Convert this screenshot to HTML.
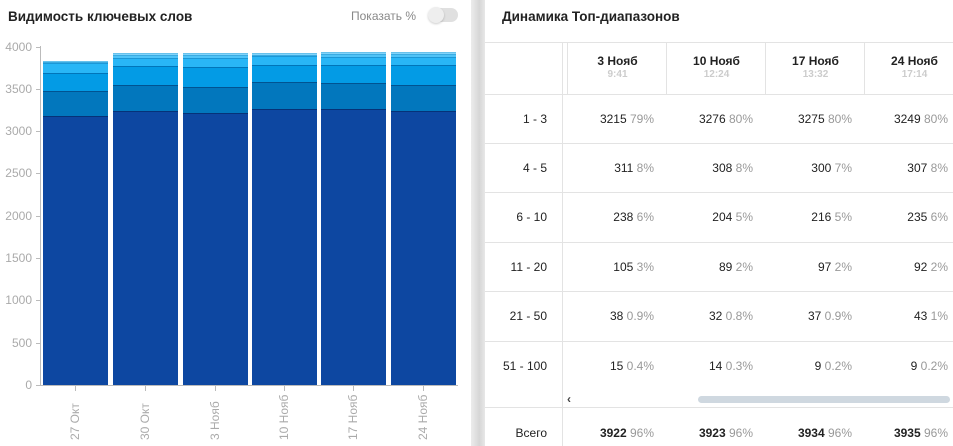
<!DOCTYPE html>
<html><head><meta charset="utf-8"><style>
*{margin:0;padding:0;box-sizing:border-box}
body{width:953px;height:446px;background:#fff;font-family:"Liberation Sans",Arial,sans-serif;position:relative;overflow:hidden}
.a{position:absolute}
.t{font-size:13.5px;font-weight:bold;color:#222}
.yl{font-size:12px;color:#aaa;text-align:right;width:30px;left:2px}
.xl{font-size:12px;color:#aaa;transform:rotate(-90deg);transform-origin:left top;white-space:nowrap}
.hl{background:#e3e3e3;height:1px}
.vl{background:#e3e3e3;width:1px}
.c{font-size:12px;color:#222;text-align:right;white-space:nowrap}
.c span{color:#999}
.h{font-size:12px;font-weight:bold;text-align:center;color:#222;line-height:14px}
.h small{display:block;font-size:10px;color:#ccc;font-weight:bold}
</style></head><body>
<div class="a t" style="left:8px;top:9px">Видимость ключевых слов</div>
<div class="a" style="left:351px;top:9px;font-size:12px;color:#888">Показать %</div>
<div class="a" style="left:429px;top:8px;width:29px;height:14px;border-radius:7px;background:#e0e0e0"></div>
<div class="a" style="left:428px;top:7px;width:16px;height:16px;border-radius:8px;background:#eee;box-shadow:0 1px 2px rgba(0,0,0,.2)"></div>
<div id="chart"></div>
<div class="a" style="left:471px;top:0;width:14px;height:446px;background:linear-gradient(90deg,#ececec,#d6d6d6 60%,#e8e8e8)"></div>
<div class="a t" style="left:502px;top:9px">Динамика Топ-диапазонов</div>
<div id="tbl"></div>
<script>
var ch=document.getElementById('chart'),h='';
var ys=[4000,3500,3000,2500,2000,1500,1000,500,0];
ys.forEach(function(v,i){var y=46.5+i*42.3;h+='<div class="a yl" style="top:'+(y-7)+'px">'+v+'</div><div class="a" style="left:36px;top:'+Math.round(y)+'px;width:4px;height:1px;background:#bbb"></div>';});
h+='<div class="a" style="left:40px;top:46px;width:1px;height:340px;background:#bbb"></div><div class="a" style="left:40px;top:385px;width:418px;height:1px;background:#bbb"></div>';
var bx=[43,113,183,252,321,391];
var bd=[[116,91,73,63,62,62],[111,85,66,58,55,54],[113,87,67,58,55,54],[109,82,65,56,55,54],[109,83,65,57,54,53],[111,85,65,57,54,53]];
var cols=['#0d47a1','#0277bd','#039be5','#29b6f6','#4fc3f7','#81d4fa'];
var bc=['rgba(0,30,80,.5)','rgba(0,40,90,.45)','rgba(0,60,120,.4)','rgba(0,80,140,.3)','rgba(0,100,160,.25)','rgba(0,120,180,.2)'];
var lb=['27 Окт','30 Окт','3 Нояб','10 Нояб','17 Нояб','24 Нояб'];
bx.forEach(function(x,i){var d=bd[i],prev=385;for(var k=0;k<6;k++){var top=d[k];if(k==5)top=d[5]-1;var hh=prev-top;if(hh>0)h+='<div class="a" style="left:'+x+'px;top:'+top+'px;width:65px;height:'+hh+'px;background:'+cols[k]+';border-top:1px solid '+bc[k]+'"></div>';prev=top;}
var cx=x+32;h+='<div class="a" style="left:'+cx+'px;top:386px;width:1px;height:5px;background:#bbb"></div><div class="a xl" style="left:'+(cx-7)+'px;top:'+(440)+'px">'+lb[i]+'</div>';});
ch.innerHTML=h;
var t='',rows=[['1 - 3',['3215','79%'],['3276','80%'],['3275','80%'],['3249','80%']],['4 - 5',['311','8%'],['308','8%'],['300','7%'],['307','8%']],['6 - 10',['238','6%'],['204','5%'],['216','5%'],['235','6%']],['11 - 20',['105','3%'],['89','2%'],['97','2%'],['92','2%']],['21 - 50',['38','0.9%'],['32','0.8%'],['37','0.9%'],['43','1%']],['51 - 100',['15','0.4%'],['14','0.3%'],['9','0.2%'],['9','0.2%']]];
t+='<div class="a hl" style="left:485px;top:42px;width:468px"></div>';
t+='<div class="a vl" style="left:562px;top:42px;height:404px"></div><div class="a vl" style="left:567px;top:42px;height:52px"></div>';
[666,765,864].forEach(function(x){t+='<div class="a vl" style="left:'+x+'px;top:42px;height:52px"></div>';});
var hd=[['3 Нояб','9:41'],['10 Нояб','12:24'],['17 Нояб','13:32'],['24 Нояб','17:14']];
hd.forEach(function(d,i){t+='<div class="a h" style="left:'+(568+i*99)+'px;top:54px;width:99px">'+d[0]+'<small>'+d[1]+'</small></div>';});
var rt=[94,143,192,242,291,341];
rt.forEach(function(y,r){t+='<div class="a hl" style="left:485px;top:'+y+'px;width:468px"></div>';var row=rows[r];t+='<div class="a c" style="left:485px;width:62px;top:'+(y+18)+'px">'+row[0]+'</div>';for(var j=0;j<4;j++){t+='<div class="a c" style="left:'+(568+j*99)+'px;width:'+(j==3?83:86)+'px;top:'+(y+18)+'px">'+row[j+1][0]+' <span>'+row[j+1][1]+'</span></div>';}});
t+='<div class="a" style="left:567px;top:392px;font-size:12px;color:#444;font-weight:bold">&lsaquo;</div>';
t+='<div class="a" style="left:698px;top:396px;width:252px;height:7px;border-radius:4px;background:#cfd8e0"></div>';
t+='<div class="a hl" style="left:485px;top:407px;width:468px"></div>';
t+='<div class="a c" style="left:485px;width:62px;top:426px">Всего</div>';
var tot=['3922','3923','3934','3935'];
for(var j=0;j<4;j++)t+='<div class="a c" style="left:'+(568+j*99)+'px;width:'+(j==3?83:86)+'px;top:426px;font-weight:bold">'+tot[j]+' <span style="font-weight:normal">96%</span></div>';
document.getElementById('tbl').innerHTML=t;
</script>
</body></html>
